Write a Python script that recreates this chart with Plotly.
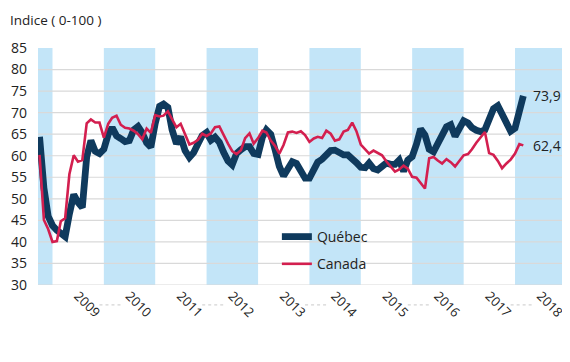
import pandas as pd
import plotly.graph_objects as go

# Monthly index, starting October 2008
start_month = "2008-10-01"

quebec = [64.4, 52.5, 46.0, 43.8, 42.7, 42.0, 41.2, 46.5, 51.0, 49.2, 48.0, 59.7,
          63.5, 61.0, 60.5, 61.5, 65.0, 66.5, 64.6, 64.0, 63.3, 63.5, 66.0, 66.8,
          65.3, 63.0, 62.0, 67.5, 71.5, 72.0, 71.2, 66.0, 62.8, 64.4, 61.2, 59.6,
          60.7, 62.8, 64.7, 65.4, 63.6, 64.3, 63.1, 60.8, 58.8, 57.9, 60.5, 61.4,
          62.1, 62.1, 60.5, 60.3, 64.3, 66.0, 65.0, 61.5, 57.5, 55.3, 56.7, 58.6,
          58.2, 56.4, 54.8, 54.8, 56.5, 58.5, 59.2, 60.2, 61.2, 61.3, 60.5, 60.2,
          60.2, 59.0, 58.4, 57.3, 57.2, 58.3, 57.0, 56.7, 57.5, 58.3, 58.0, 58.0,
          59.0, 56.4, 59.0, 59.8, 62.7, 66.2, 64.8, 61.5, 60.9, 62.8, 65.2, 66.7,
          67.2, 64.5, 66.3, 68.1, 67.6, 66.5, 65.9, 65.6, 66.0, 68.5, 70.9, 71.6,
          69.9, 67.4, 65.7, 66.4, 70.3, 73.9]

canada = [60.2, 45.1, 43.0, 40.0, 40.2, 44.8, 45.5, 55.7, 60.1, 58.6, 59.0, 67.5,
          68.4, 67.7, 67.7, 64.2, 67.4, 68.8, 69.3, 67.2, 66.5, 66.3, 65.8, 65.0,
          63.8, 66.3, 65.3, 69.4, 69.1, 69.3, 70.3, 68.5, 66.6, 67.4, 65.2, 62.6,
          63.0, 63.7, 65.1, 64.6, 65.2, 66.6, 66.8, 64.7, 62.8, 61.1, 60.4, 61.3,
          64.1, 65.2, 62.8, 64.1, 65.8, 65.4, 63.5, 62.3, 60.5, 62.5, 65.4, 65.6,
          65.3, 65.7, 64.8, 63.2, 64.0, 64.4, 64.1, 65.8, 65.1, 63.5, 63.8, 65.6,
          66.0, 67.7, 65.7, 62.6, 61.4, 60.5, 61.2, 60.7, 60.1, 58.7, 57.4, 56.3,
          56.8, 57.7, 57.0, 55.1, 54.9, 53.8, 52.4, 59.4, 59.7, 58.9, 58.2, 59.2,
          58.5, 57.5, 58.7, 60.1, 60.4, 61.5, 63.0, 64.2, 65.5, 60.6, 60.2, 58.8,
          57.1, 58.2, 59.1, 60.5, 62.7, 62.4]

years = [2009, 2010, 2011, 2012, 2013, 2014, 2015, 2016, 2017, 2018]
shaded_years = [2008, 2010, 2012, 2014, 2016, 2018]
y_ticks = [30, 35, 40, 45, 50, 55, 60, 65, 70, 75, 80, 85]

dates = pd.date_range(start_month, periods=len(quebec), freq="MS")

x_start = "2008-09-20"
x_end = "2018-12-08"

FONT = "Open Sans"
TXT = "#222222"
BAND = "#c3e5f8"
GRID = "#d9d9d9"
QC = "#0f3a5d"
CA = "#d31f4f"

fig = go.Figure()

fig.add_trace(go.Scatter(x=dates, y=quebec, mode="lines", name="Québec",
                         legendgroup="q",
                         line=dict(color=QC, width=6.8)))
fig.add_trace(go.Scatter(x=dates, y=canada, mode="lines", name="Canada",
                         legendgroup="c",
                         line=dict(color=CA, width=2.6)))

# alternating year bands
for yr in shaded_years:
    x0 = max(pd.Timestamp(f"{yr}-01-01"), pd.Timestamp(x_start))
    x1 = min(pd.Timestamp(f"{yr + 1}-01-01"), pd.Timestamp(x_end))
    fig.add_shape(type="rect", xref="x", yref="paper", x0=x0, x1=x1, y0=0, y1=1,
                  fillcolor=BAND, line_width=0, layer="below")

# horizontal grid lines (none at the very top)
for v in y_ticks[:-1]:
    fig.add_shape(type="line", xref="paper", yref="y", x0=0, x1=1, y0=v, y1=v,
                  line=dict(color=GRID, width=1.2), layer="below")

# faint dotted separators between the year labels
for yr in shaded_years[1:]:
    fig.add_shape(type="line", xref="x", yref="paper",
                  x0=pd.Timestamp(f"{yr - 1}-12-01"), x1=pd.Timestamp(f"{yr}-05-15"),
                  y0=-0.084, y1=-0.084,
                  line=dict(color="#c9c9c9", width=1, dash="dot"))

# end labels
for series, col in ((quebec, QC), (canada, CA)):
    fig.add_annotation(x=dates[-1], y=series[-1],
                       text=f"{series[-1]:.1f}".replace(".", ","),
                       showarrow=False, xanchor="left", yanchor="middle",
                       xshift=8, font=dict(family=FONT, size=14, color=TXT))

fig.add_annotation(xref="paper", yref="paper", x=-30 / 525, y=1.07,
                   xanchor="left", yanchor="bottom", text="Indice ( 0-100 )",
                   showarrow=False, font=dict(family=FONT, size=13.5, color=TXT))

fig.update_layout(
    width=562, height=354,
    margin=dict(l=30, r=7, t=40, b=77),
    paper_bgcolor="white", plot_bgcolor="white",
    font=dict(family=FONT, size=13, color=TXT),
    showlegend=True,
    legend=dict(x=0.455, y=0.27, xanchor="left", yanchor="top",
                bgcolor="rgba(0,0,0,0)", tracegroupgap=6,
                font=dict(family=FONT, size=14, color=TXT)),
    xaxis=dict(type="date", range=[x_start, x_end], showgrid=False,
               zeroline=False, showline=False, ticks="", automargin=False,
               tickvals=[pd.Timestamp(f"{y}-07-01") for y in years],
               ticktext=[str(y) for y in years], tickangle=45,
               tickfont=dict(family=FONT, size=13, color=TXT)),
    yaxis=dict(range=[30, 85], tickvals=y_ticks, showgrid=False,
               zeroline=False, showline=False, ticks="", automargin=False,
               ticklabelstandoff=10,
               tickfont=dict(family=FONT, size=14, color=TXT)),
)

fig.write_html("out.html")
